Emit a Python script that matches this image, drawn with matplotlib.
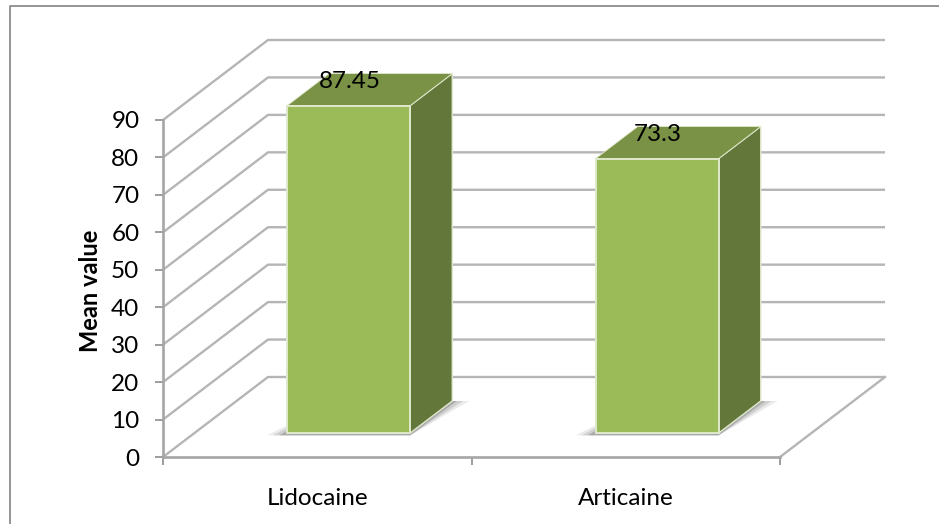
import matplotlib
matplotlib.use("Agg")
import matplotlib.pyplot as plt
from matplotlib.patches import Polygon
from matplotlib.lines import Line2D

plt.rcParams['font.family'] = ['Lato', 'DejaVu Sans']

categories = ["Lidocaine", "Articaine"]
mean_values = [87.45, 73.3]
value_ticks = list(range(0, 100, 10))
value_label = "Mean value"

W, H = 939, 524
FRONT_L, FRONT_R, BASE_Y, TOP_Y = 163.0, 780.0, 457.0, 120.0
DEPTH_X, DEPTH_Y = 105.0, 80.0

fig = plt.figure(figsize=(W / 100, H / 100), dpi=100, facecolor="white")
# Chart frame, drawn on its top and left edges
fig.add_artist(Line2D([9.5 / W, 9.5 / W, 1], [0, 1 - 5.5 / H, 1 - 5.5 / H],
                      transform=fig.transFigure, color="#8c8c8c", lw=1.3))

# Axes span the front plane plus the receding depth
px_per_cat = (FRONT_R - FRONT_L) / len(categories)
px_per_val = (BASE_Y - TOP_Y) / 90.0
dcat = DEPTH_X / px_per_cat
dval = DEPTH_Y / px_per_val
ax = fig.add_axes([FRONT_L / W, 1 - BASE_Y / H, (FRONT_R + DEPTH_X - FRONT_L) / W,
                   (BASE_Y - TOP_Y + DEPTH_Y) / H])
ax.set_xlim(0, len(categories) + dcat)
ax.set_ylim(0, 90 + dval)
ax.patch.set_visible(False)


def project(x, v, d):
    """Oblique projection: d=0 is the front plane, d=1 the back wall."""
    return (x + d * dcat, v + d * dval)


GRID = "#b5b5b5"
# Gridlines: a slanted run along the side wall, then across the back wall
for v in value_ticks:
    pts = [project(0, v, 0), project(0, v, 1), project(len(categories), v, 1)]
    ax.plot(*zip(*pts), color=GRID, lw=1.7, solid_capstyle="butt", zorder=1, clip_on=False)
floor = [project(len(categories), 0, 1), project(len(categories), 0, 0)]
ax.plot(*zip(*floor), color=GRID, lw=1.7, zorder=1, clip_on=False)

for side in ("top", "right"):
    ax.spines[side].set_visible(False)
for side in ("left", "bottom"):
    ax.spines[side].set_color("#a6a6a6")
    ax.spines[side].set_linewidth(1.9)
ax.spines["left"].set_bounds(0, 90)
ax.spines["bottom"].set_bounds(0, len(categories))

ax.set_yticks(value_ticks)
ax.tick_params(axis="y", length=6, width=1.2, color="#8c8c8c", labelsize=17.5, pad=11)
ax.set_xticks(range(len(categories) + 1))
ax.set_xticklabels([])
ax.tick_params(axis="x", length=6, width=1.2, color="#8c8c8c")
ax.set_xticks([i + 0.5 for i in range(len(categories))], minor=True)
ax.set_xticklabels(categories, minor=True, fontsize=17.5)
ax.tick_params(axis="x", which="minor", length=0, pad=22)

fig.text(90 / W, 1 - 291 / H, value_label, rotation=90, ha="center", va="center",
         fontsize=17, fontweight="bold", color="black")

BAR_W = 123.0 / px_per_cat
D0, D1 = 0.30, 0.70
FRONT, TOP, SIDE = "#9bbb59", "#7a9245", "#64773a"
EDGE = "#dfe8cb"
for i, (name, val) in enumerate(zip(categories, mean_values)):
    x0 = i + 0.5 - BAR_W / 2
    x1 = x0 + BAR_W
    xc = (x0 + x1) / 2
    # Soft shadow on the floor around the foot of the bar
    for grow, alpha in ((0.055, 0.14), (0.035, 0.22), (0.015, 0.38)):
        shadow = [project(x0 - grow, 0, D0 - 0.03), project(x1 + 0.01, 0, D0 - 0.03),
                  project(x1 + grow, 0, D1), project(x0 + 0.02, 0, D1)]
        ax.add_patch(Polygon(shadow, closed=True, fc="#707070", ec="none", alpha=alpha, zorder=2))
    ax.add_patch(Polygon([project(x1, 0, D0), project(x1, 0, D1), project(x1, val, D1), project(x1, val, D0)],
                         closed=True, fc=SIDE, ec=EDGE, lw=1.0, zorder=3))
    ax.add_patch(Polygon([project(x0, val, D0), project(x1, val, D0), project(x1, val, D1), project(x0, val, D1)],
                         closed=True, fc=TOP, ec=EDGE, lw=0.6, zorder=3))
    ax.add_patch(Polygon([project(x0, 0, D0), project(x1, 0, D0), project(x1, val, D0), project(x0, val, D0)],
                         closed=True, fc=FRONT, ec=EDGE, lw=1.4, zorder=4))
    ax.annotate(f"{val:g}", xy=project(xc, val, D0), xytext=(0.5, 17), textcoords="offset points",
                ha="center", va="center", fontsize=17.5, color="black", zorder=6)

fig.savefig("out.png", dpi=100)
